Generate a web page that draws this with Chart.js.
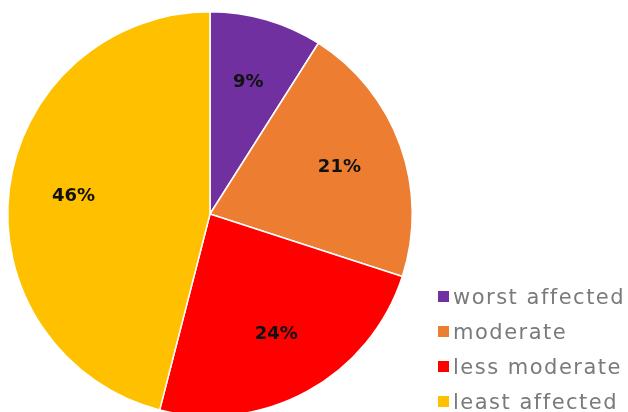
<!DOCTYPE html>
<html>
<head>
<meta charset="utf-8">
<script src="https://cdn.jsdelivr.net/npm/chart.js@4"></script>
<style>
  html, body { margin: 0; padding: 0; background: #fff; overflow: hidden; }
  #wrap { position: relative; width: 628px; height: 420px; }
  #legend { position: absolute; left: 438px; top: 282px; font-family: "DejaVu Sans", sans-serif; font-size: 21px; letter-spacing: 1.5px; color: #7a7a7a; }
  #legend div { height: 35px; line-height: 30px; white-space: nowrap; }
  #legend span { display: inline-block; width: 11px; height: 11px; margin-right: 4px; vertical-align: 2px; box-shadow: 0 0 0 1px rgba(255,255,255,0.6); }
</style>
</head>
<body>
<div id="wrap">
  <canvas id="pieChart" width="628" height="420"></canvas>
  <div id="legend"></div>
</div>
<script>
const categories = ['worst affected', 'moderate', 'less moderate', 'least affected'];
const shares = [9, 21, 24, 46];
const sliceColors = ['#7030A0', '#ED7D31', '#FF0000', '#FFC000'];

// labels drawn inside each slice
const sliceLabels = {
  id: 'sliceLabels',
  afterDatasetsDraw(chart) {
    const ctx = chart.ctx;
    const meta = chart.getDatasetMeta(0);
    ctx.save();
    ctx.font = 'bold 18px "DejaVu Sans", sans-serif';
    ctx.fillStyle = '#111';
    ctx.textAlign = 'center';
    ctx.textBaseline = 'middle';
    meta.data.forEach(function(arc, i) {
      const mid = (arc.startAngle + arc.endAngle) / 2;
      const r = arc.outerRadius * 0.68;
      ctx.fillText(shares[i] + '%', arc.x + Math.cos(mid) * r, arc.y + Math.sin(mid) * r);
    });
    ctx.restore();
  }
};

const ctx = document.getElementById('pieChart').getContext('2d');
const pieChart = new Chart(ctx, {
  type: 'pie',
  data: {
    labels: categories,
    datasets: [{
      data: shares,
      backgroundColor: sliceColors,
      borderColor: '#ffffff',
      borderWidth: 1.5
    }]
  },
  options: {
    responsive: false,
    animation: false,
    layout: { padding: { left: 7, right: 215, top: 11, bottom: 3 } },
    plugins: {
      legend: { display: false },
      tooltip: { enabled: false }
    }
  },
  plugins: [sliceLabels]
});

// legend
const legendBox = document.getElementById('legend');
categories.forEach(function(name, i) {
  const row = document.createElement('div');
  const sw = document.createElement('span');
  sw.style.background = sliceColors[i];
  row.appendChild(sw);
  row.appendChild(document.createTextNode(name));
  legendBox.appendChild(row);
});
</script>
</body>
</html>
